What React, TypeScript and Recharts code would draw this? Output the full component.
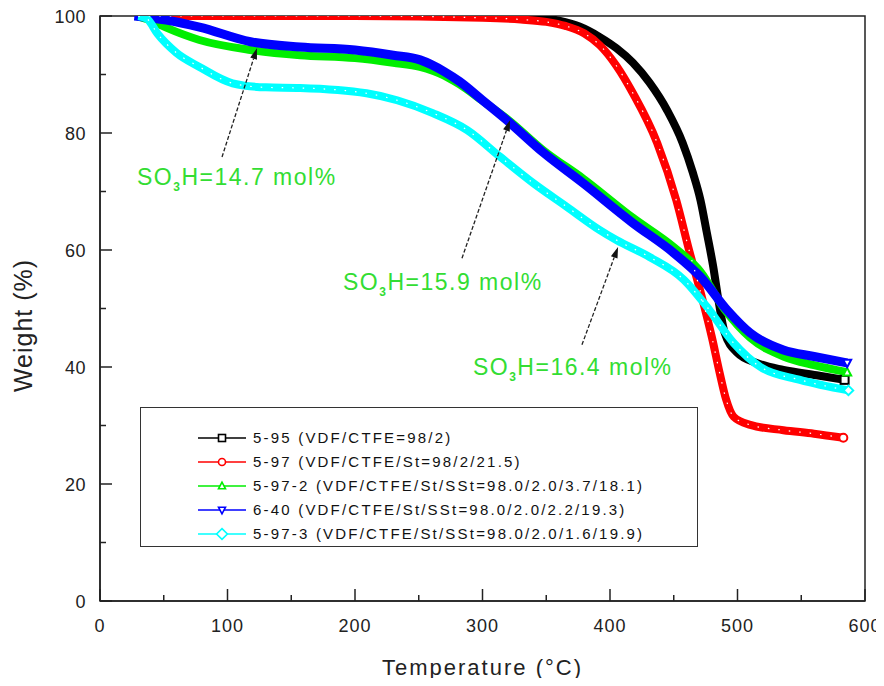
import React from "react";
import {
  LineChart,
  Line,
  XAxis,
  YAxis,
  ReferenceArea,
  ReferenceLine,
  ReferenceDot,
} from "recharts";

const FONT = "'Liberation Sans', Arial, Helvetica, sans-serif";

// ---- data (temperature °C, weight %) ----
const t595 = [30, 100, 200, 300, 340, 360, 376, 392, 405, 418, 431, 445, 457, 465, 471, 476, 481, 485, 490, 500, 515, 536, 562, 584];
const w595 = [100, 100, 100, 100, 99.8, 99.2, 98.2, 96.4, 94.5, 92.0, 88.6, 83.8, 78.3, 73.2, 68.5, 62.9, 57.1, 51.5, 45.8, 42.4, 40.7, 39.5, 38.6, 37.8];

const t597 = [30, 100, 200, 300, 330, 350, 365, 380, 392, 405, 418, 437, 452, 462, 472, 480, 486, 491, 497, 510, 536, 560, 583];
const w597 = [100, 100, 100, 99.7, 99.4, 99, 98.3, 97, 95, 91.5, 86.8, 78.3, 68.5, 60, 52, 45, 39, 34.5, 31.5, 30.1, 29.2, 28.6, 27.9];

const t5972 = [28, 40, 52, 78, 118, 157, 200, 230, 251, 270, 282, 300, 320, 348, 379, 418, 450, 471, 490, 510, 536, 560, 586];
const w5972 = [100, 99.2, 98, 95.9, 94.2, 93.3, 92.8, 92, 91.3, 89.8, 88.3, 85.5, 82.3, 77, 72.2, 65.5, 60.5, 56.3, 49.8, 45, 41.8, 40.3, 39.1];

const t640 = [27, 52, 78, 118, 157, 200, 230, 251, 270, 282, 300, 319, 348, 379, 418, 450, 471, 492, 510, 536, 560, 586];
const w640 = [100, 99.3, 98.1, 95.6, 94.7, 94.2, 93.3, 92.5, 90.5, 88.8, 85.6, 82.2, 76.6, 71.4, 64.6, 59.5, 55.4, 49.7, 45.8, 42.9, 41.8, 40.7];

const t5973 = [30, 37, 45, 60, 78, 104, 130, 157, 209, 233, 261, 288, 314, 340, 366, 392, 405, 431, 458, 476, 497, 518, 549, 587];
const w5973 = [100, 99.5, 97, 93.7, 91.3, 88.5, 87.8, 87.7, 86.8, 85.6, 83.4, 80.5, 75.9, 71.4, 67.4, 63.4, 61.7, 58.8, 54.9, 50.3, 44.1, 40, 37.8, 36];

const seriesNames = [
  "5-95 (VDF/CTFE=98/2)",
  "5-97 (VDF/CTFE/St=98/2/21.5)",
  "5-97-2 (VDF/CTFE/St/SSt=98.0/2.0/3.7/18.1)",
  "6-40 (VDF/CTFE/St/SSt=98.0/2.0/2.2/19.3)",
  "5-97-3 (VDF/CTFE/St/SSt=98.0/2.0/1.6/19.9)",
];
const seriesColors = ["#000000", "#ff0000", "#00ee00", "#0000ff", "#00ffff"];
const seriesShapes = ["square", "circle", "triUp", "triDown", "diamond"];
const seriesTemps = [t595, t597, t5972, t640, t5973];
const seriesWeights = [w595, w597, w5972, w640, w5973];

const xTicks = [0, 50, 100, 150, 200, 250, 300, 350, 400, 450, 500, 550, 600];
const xMajor = [0, 100, 200, 300, 400, 500, 600];
const yTicks = [0, 10, 20, 30, 40, 50, 60, 70, 80, 90, 100];
const yMajor = [0, 20, 40, 60, 80, 100];

// annotations: [tailT, tailW, headT, headW], text anchor [T, W], label value
const annoArrows = [
  [95.7, 75.9, 123.1, 94.5],
  [283.9, 58.6, 321.6, 82.2],
  [378, 43.8, 406.3, 60.5],
];
const annoTextPos = [
  [29, 71.1],
  [190.6, 53.2],
  [292.5, 38.6],
];
const annoValues = ["14.7", "15.9", "16.4"];

const seriesData = seriesTemps.map((ts, i) =>
  ts.map((t, j) => ({ t, w: seriesWeights[i][j] }))
);

function Marker({ shape, x, y, color, s, sw = 1.6 }: any) {
  const h = s / 2;
  const common = { fill: "#fff", stroke: color, strokeWidth: sw };
  if (shape === "square") return <rect x={x - h} y={y - h} width={s} height={s} {...common} />;
  if (shape === "circle") return <circle cx={x} cy={y} r={h} {...common} />;
  if (shape === "triUp")
    return <polygon points={`${x},${y - h * 1.1} ${x - h},${y + h * 0.8} ${x + h},${y + h * 0.8}`} {...common} />;
  if (shape === "triDown")
    return <polygon points={`${x},${y + h * 1.1} ${x - h},${y - h * 0.8} ${x + h},${y - h * 0.8}`} {...common} />;
  return (
    <polygon
      points={`${x},${y - h * 1.2} ${x + h * 1.2},${y} ${x},${y + h * 1.2} ${x - h * 1.2},${y}`}
      {...common}
    />
  );
}

const XTick = (props: any) => {
  const { x, y, payload } = props;
  const v = payload.value;
  const major = xMajor.includes(v);
  return (
    <g>
      <line x1={x} y1={y} x2={x} y2={y - (major ? 12 : 6)} stroke="#222" strokeWidth={1.5} />
      {major && (
        <text x={x} y={y + 31} textAnchor="middle" fontSize={18} letterSpacing={1} fill="#222" fontFamily={FONT}>
          {v}
        </text>
      )}
    </g>
  );
};

const YTick = (props: any) => {
  const { x, y, payload } = props;
  const v = payload.value;
  const major = yMajor.includes(v);
  return (
    <g>
      <line x1={x} y1={y} x2={x + (major ? 12 : 6)} y2={y} stroke="#222" strokeWidth={1.5} />
      {major && (
        <text x={x - 14} y={y + 6.5} textAnchor="end" fontSize={18} letterSpacing={0.5} fill="#222" fontFamily={FONT}>
          {v}
        </text>
      )}
    </g>
  );
};

const arrowShape = (p: any) => {
  const { x1, y1, x2, y2 } = p;
  const dx = x2 - x1;
  const dy = y2 - y1;
  const len = Math.sqrt(dx * dx + dy * dy) || 1;
  const ux = dx / len;
  const uy = dy / len;
  const hl = 11;
  const hw = 3.5;
  const bx = x2 - ux * hl;
  const by = y2 - uy * hl;
  return (
    <g>
      <line x1={x1} y1={y1} x2={bx} y2={by} stroke="#222" strokeWidth={1.3} strokeDasharray="4 2" />
      <polygon
        points={`${x2},${y2} ${bx - uy * hw},${by + ux * hw} ${bx + uy * hw},${by - ux * hw}`}
        fill="#111"
      />
    </g>
  );
};

const makeTextShape = (val: string) => (p: any) => (
  <text x={p.cx} y={p.cy} fontSize={23} letterSpacing={1.5} fill="#33dd33" fontFamily={FONT}>
    <tspan>SO</tspan>
    <tspan dy={6} fontSize={12} fontWeight="bold">3</tspan>
    <tspan dy={-6}>{`H=${val} mol%`}</tspan>
  </text>
);

const makeDot = (i: number) => (props: any) => {
  const { cx, cy, index } = props;
  const last = seriesData[i].length - 1;
  if (index !== last || cx == null) return <g key={`d${i}-${index}`} />;
  return (
    <g key={`d${i}-${index}`}>
      <Marker shape={seriesShapes[i]} x={cx} y={cy} color={seriesColors[i]} s={8} sw={2} />
    </g>
  );
};

export default function App() {
  return (
    <div style={{ position: "relative", width: 884, height: 686, margin: -8, background: "#fff", fontFamily: FONT }}>
      <LineChart width={884} height={686} margin={{ top: 16, right: 19, bottom: 5, left: 20 }}>
        <XAxis
          type="number"
          dataKey="t"
          domain={[0, 600]}
          ticks={xTicks}
          interval={0}
          height={80}
          tickSize={0}
          tickMargin={0}
          tickLine={false}
          axisLine={{ stroke: "#222", strokeWidth: 1.5 }}
          tick={<XTick />}
          allowDataOverflow
          label={{
            value: "Temperature (°C)",
            position: "insideBottom",
            offset: 6,
            fontSize: 22,
            letterSpacing: 2,
            fill: "#222",
            fontFamily: FONT,
          }}
        />
        <YAxis
          type="number"
          domain={[0, 100]}
          ticks={yTicks}
          interval={0}
          width={80}
          tickSize={0}
          tickMargin={0}
          tickLine={false}
          axisLine={{ stroke: "#222", strokeWidth: 1.5 }}
          tick={<YTick />}
          allowDataOverflow
          label={{
            content: (p: any) => {
              const vb = p.viewBox;
              const cy = vb.y + vb.height / 2 + 17;
              return (
                <text
                  x={32}
                  y={cy}
                  transform={`rotate(-90 32 ${cy})`}
                  textAnchor="middle"
                  fontSize={25}
                  letterSpacing={1}
                  fill="#222"
                  fontFamily={FONT}
                >
                  Weight (%)
                </text>
              );
            },
          }}
        />
        <ReferenceArea x1={0} x2={600} y1={0} y2={100} fill="none" fillOpacity={0} stroke="#222" strokeWidth={1.5} />
        {seriesData.map((d, i) => (
          <Line
            key={`s${i}`}
            data={d}
            dataKey="w"
            type="monotone"
            stroke={seriesColors[i]}
            strokeWidth={i === 3 ? 9 : 8}
            dot={makeDot(i)}
            activeDot={false}
            isAnimationActive={false}
            legendType="none"
          />
        ))}
        {[1, 4].map((i) => (
          <Line
            key={`w${i}`}
            data={seriesData[i]}
            dataKey="w"
            type="monotone"
            stroke="#ffffff"
            strokeWidth={1.2}
            strokeDasharray="1.5 9"
            dot={false}
            activeDot={false}
            isAnimationActive={false}
            legendType="none"
          />
        ))}
        {annoArrows.map((a, i) => (
          <ReferenceLine
            key={`a${i}`}
            segment={[
              { x: a[0], y: a[1] },
              { x: a[2], y: a[3] },
            ]}
            shape={arrowShape}
          />
        ))}
        {annoTextPos.map((p, i) => (
          <ReferenceDot key={`t${i}`} x={p[0]} y={p[1]} r={0} shape={makeTextShape(annoValues[i])} />
        ))}
      </LineChart>
      <div
        style={{
          position: "absolute",
          left: 140,
          top: 407,
          width: 558,
          height: 140,
          border: "1.5px solid #333",
          boxSizing: "border-box",
          background: "#fff",
        }}
      >
        {seriesNames.map((name, i) => {
          const cy = 30 + i * 24;
          return (
            <div key={name} style={{ position: "absolute", left: 0, top: cy - 9, height: 18, width: 550 }}>
              <svg width={48} height={18} style={{ position: "absolute", left: 57, top: 0 }}>
                <line x1={0} y1={9} x2={48} y2={9} stroke={seriesColors[i]} strokeWidth={1.6} />
                <Marker shape={seriesShapes[i]} x={24} y={9} color={seriesColors[i]} s={i === 4 ? 9 : 7} />
              </svg>
              <span
                style={{
                  position: "absolute",
                  left: 112,
                  top: 0,
                  lineHeight: "18px",
                  fontSize: 15,
                  letterSpacing: 2.2,
                  color: "#111",
                  whiteSpace: "nowrap",
                }}
              >
                {name}
              </span>
            </div>
          );
        })}
      </div>
    </div>
  );
}
